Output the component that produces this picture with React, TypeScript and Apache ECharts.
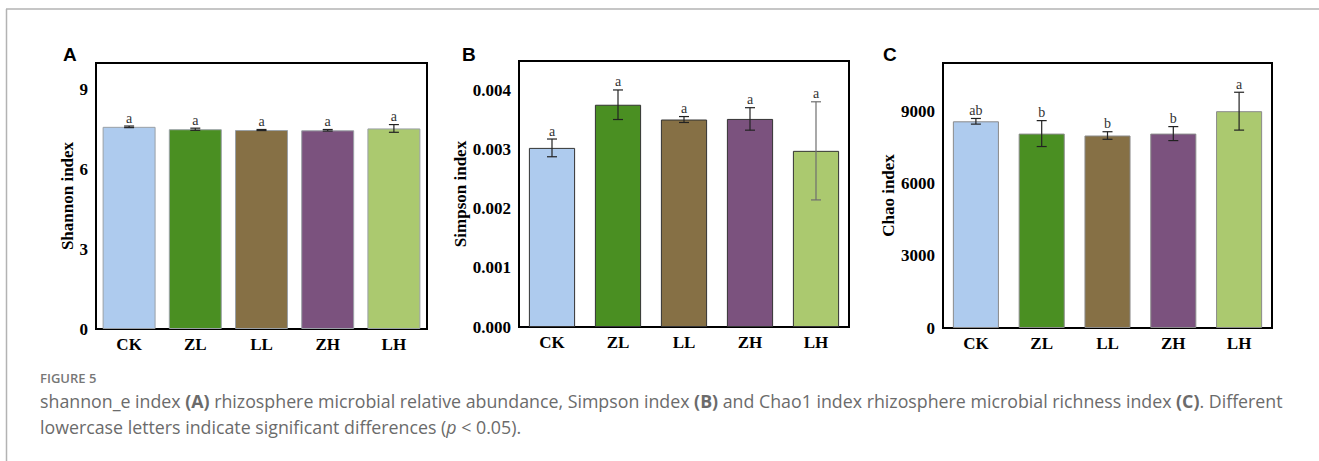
import React, { useEffect, useRef } from "react";
import * as echarts from "echarts";

const categories = ["CK", "ZL", "LL", "ZH", "LH"];
const barColors = ["#aecbee", "#4a8f22", "#867045", "#7b527e", "#abc96f"];

const shannonValues = [7.6, 7.51, 7.48, 7.47, 7.54];
const shannonErrors = [0.03, 0.04, 0.02, 0.03, 0.145];
const shannonLetters = ["a", "a", "a", "a", "a"];

const simpsonValues = [0.00303, 0.00376, 0.00351, 0.00352, 0.00298];
const simpsonErrors = [0.00015, 0.00025, 0.00005, 0.00019, 0.00083];
const simpsonLetters = ["a", "a", "a", "a", "a"];

const chaoValues = [8580, 8070, 7990, 8070, 9000];
const chaoErrors = [117, 538, 157, 290, 786];
const chaoLetters = ["ab", "b", "b", "b", "a"];

const panelLabels = ["A", "B", "C"];
const yAxisNames = ["Shannon index", "Simpson index", "Chao index"];

const serif = "'Liberation Serif', 'Times New Roman', serif";

export default function App() {
  const ref = useRef<HTMLDivElement>(null);
  useEffect(() => {
    if (!ref.current) return;
    const chart = echarts.init(ref.current, null, { renderer: "svg" });

    const grids = [
      { left: 96, top: 63, width: 331, height: 266 },
      { left: 519, top: 61, width: 330, height: 266 },
      { left: 943, top: 63, width: 329, height: 265 },
    ];
    const yCfg = [
      { max: 10, interval: 3, fmt: (v: number) => String(v), gap: 19 },
      { max: 0.0045, interval: 0.001, fmt: (v: number) => v.toFixed(3), gap: 50 },
      { max: 11000, interval: 3000, fmt: (v: number) => String(v), gap: 45 },
    ];
    const panels = [
      { values: shannonValues, errors: shannonErrors, letters: shannonLetters, barWidth: "80%", border: "#9aa0a6" },
      { values: simpsonValues, errors: simpsonErrors, letters: simpsonLetters, barWidth: "70%", border: "#333333" },
      { values: chaoValues, errors: chaoErrors, letters: chaoLetters, barWidth: "70%", border: "#8a8a8a" },
    ];

    const xAxis: any[] = [];
    const yAxis: any[] = [];
    const series: any[] = [];

    panels.forEach((p, i) => {
      xAxis.push({
        type: "category",
        gridIndex: i,
        data: categories,
        axisLine: { lineStyle: { color: "#000", width: 2 } },
        axisTick: { show: false },
        axisLabel: {
          color: "#000",
          fontFamily: serif,
          fontWeight: "bold",
          fontSize: 17,
          margin: 7,
        },
      });
      yAxis.push({
        type: "value",
        gridIndex: i,
        min: 0,
        max: yCfg[i].max,
        interval: yCfg[i].interval,
        name: yAxisNames[i],
        nameLocation: "middle",
        nameGap: yCfg[i].gap,
        nameTextStyle: {
          color: "#000",
          fontFamily: serif,
          fontWeight: "bold",
          fontSize: 17,
        },
        axisLine: { show: true, lineStyle: { color: "#000", width: 2 } },
        axisTick: { show: false },
        splitLine: { show: false },
        axisLabel: {
          color: "#000",
          fontFamily: serif,
          fontWeight: "bold",
          fontSize: 17,
          margin: 8,
          showMaxLabel: false,
          formatter: yCfg[i].fmt,
        },
      });
      series.push({
        type: "bar",
        xAxisIndex: i,
        yAxisIndex: i,
        barWidth: p.barWidth,
        data: p.values.map((v, k) => ({
          value: v,
          itemStyle: { color: barColors[k], borderColor: p.border, borderWidth: 1 },
        })),
      });
      series.push({
        type: "custom",
        xAxisIndex: i,
        yAxisIndex: i,
        data: p.values.map((v, k) => [k, v - p.errors[k], v + p.errors[k]]),
        z: 10,
        renderItem: (params: any, api: any) => {
          const k = api.value(0);
          const lo = api.coord([k, api.value(1)]);
          const hi = api.coord([k, api.value(2)]);
          const cap = 5;
          const col = i === 1 && k === 4 ? "#6f6f6f" : "#222";
          const st = { stroke: col, lineWidth: 1.2 };
          return {
            type: "group",
            children: [
              { type: "line", shape: { x1: hi[0], y1: hi[1], x2: lo[0], y2: lo[1] }, style: st },
              { type: "line", shape: { x1: hi[0] - cap, y1: hi[1], x2: hi[0] + cap, y2: hi[1] }, style: st },
              { type: "line", shape: { x1: lo[0] - cap, y1: lo[1], x2: lo[0] + cap, y2: lo[1] }, style: st },
              {
                type: "text",
                x: hi[0],
                y: hi[1] - 1,
                style: {
                  text: p.letters[k],
                  fill: "#333",
                  font: `14px ${serif}`,
                  textAlign: "center",
                  textVerticalAlign: "bottom",
                },
              },
            ],
          };
        },
      });
    });

    const graphic: any[] = [
      { type: "line", shape: { x1: 6, y1: 9, x2: 1319, y2: 9 }, style: { stroke: "#b3b3b3", lineWidth: 1.5 } },
      { type: "line", shape: { x1: 6.5, y1: 9, x2: 6.5, y2: 461 }, style: { stroke: "#b3b3b3", lineWidth: 1.5 } },
    ];
    const labelX = [63, 462, 883];
    panelLabels.forEach((t, i) => {
      graphic.push({
        type: "text",
        left: labelX[i],
        top: 45,
        style: {
          text: t,
          fill: "#000",
          font: "bold 19px 'Liberation Sans', Arial, sans-serif",
        },
      });
    });
    graphic.push({
      type: "text",
      left: 40,
      top: 371,
      style: {
        text: "FIGURE 5",
        fill: "#777",
        font: "600 13px 'Open Sans', sans-serif",
      },
    });
    const capFont = "17.8px 'Open Sans', sans-serif";
    graphic.push({
      type: "text",
      left: 40,
      top: 388,
      style: {
        text:
          "shannon_e index {b|(A)} rhizosphere microbial relative abundance, Simpson index {b|(B)} and Chao1 index rhizosphere microbial richness index {b|(C)}. Different\nlowercase letters indicate significant differences ({i|p} < 0.05).",
        fill: "#6b6b6b",
        font: capFont,
        lineHeight: 26,
        rich: {
          b: { fontWeight: "bold", fontSize: 17.8, fontFamily: "'Open Sans', sans-serif", fill: "#6b6b6b", lineHeight: 26 },
          i: { fontStyle: "italic", fontSize: 17.8, fontFamily: "'Open Sans', sans-serif", fill: "#6b6b6b", lineHeight: 26 },
        },
      },
    });

    chart.setOption({
      animation: false,
      backgroundColor: "#fff",
      grid: grids.map((g) => ({
        ...g,
        show: true,
        borderColor: "#000",
        borderWidth: 2,
        backgroundColor: "transparent",
      })),
      xAxis,
      yAxis,
      series,
      graphic,
    });
    return () => chart.dispose();
  }, []);

  return (
    <div
      ref={ref}
      style={{ position: "absolute", left: 0, top: 0, width: 1319, height: 461, background: "#fff" }}
    />
  );
}
